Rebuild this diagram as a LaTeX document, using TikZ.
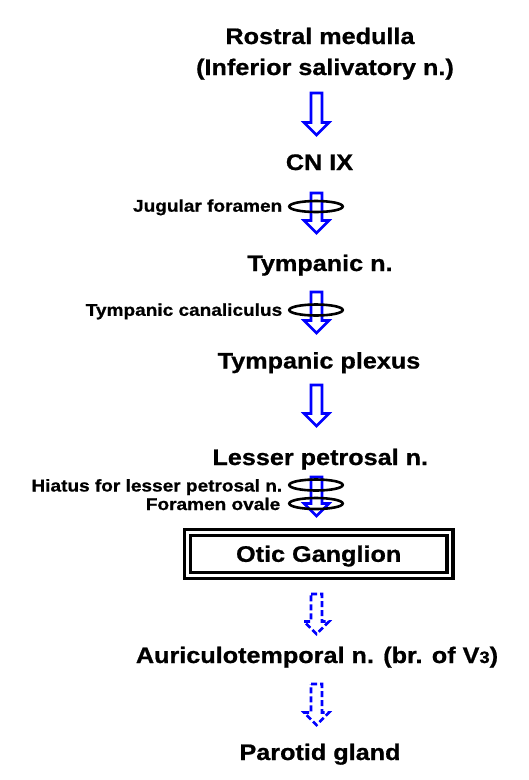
\documentclass[tikz,border=0pt]{standalone}
\usepackage{fontspec}
\setmainfont{Liberation Sans}[FakeStretch=1.12, BoldFeatures={FakeBold=0.8}]
\usetikzlibrary{calc,shapes.geometric}
\tikzset{
  main/.style={font=\fontsize{22.5}{27}\selectfont\bfseries, inner sep=0pt, anchor=base},
  lab/.style={font=\fontsize{17}{20}\selectfont\bfseries, inner sep=0pt, anchor=base east},
  blockarrow/.style={draw=blue, line width=2.6pt, line join=miter, fill=white},
  dashedarrow/.style={blockarrow, dash pattern=on 6pt off 3pt},
  ring/.style={ellipse, draw=black, line width=2.6pt, minimum width=53.5pt, minimum height=11pt, inner sep=0pt},
  gbox/.style={draw=black, double=white, line width=3.5pt, double distance=2.5pt,
    minimum width=262.7pt, minimum height=43pt, inner sep=0pt,
    font=\fontsize{22.5}{27}\selectfont\bfseries, text height=16pt, text depth=0pt}
}
\newcommand\blockarr[3][]{%
  \draw[blockarrow,#1] ($(#2)+(-5.5,0)$) -- ($(#2)+(5.5,0)$) -- ($(#3)+(5.5,-12.5)$)
    -- ($(#3)+(12.5,-12.5)$) -- (#3) -- ($(#3)+(-12.5,-12.5)$) -- ($(#3)+(-5.5,-12.5)$) -- cycle;}
\begin{document}
\begin{tikzpicture}[x=1pt,y=-1pt]
\useasboundingbox[fill=white] (0,0) rectangle (529,780);
% texts
\node[main] (rm) at (320,44) {Rostral medulla};
\node[main] (isn) at (325,75) {(Inferior salivatory n.)};
\node[main] (cn) at (319.5,170) {CN IX};
\node[main] (tn) at (320,271) {Tympanic n.};
\node[main] (tp) at (319,368.5) {Tympanic plexus};
\node[main] (lp) at (320.3,465) {Lesser petrosal n.};
\node[gbox] (otic) at (318.7,553.8) {Otic Ganglion};
\node[main] (at) at (317,663) {Auriculotemporal n. (br. of V{\fontsize{16.5}{18}\selectfont 3})};
\node[main] (pg) at (320,760) {Parotid gland};
% arrow coordinates
\coordinate (a1t) at (316.5,93);  \coordinate (a1b) at (316.5,135);
\coordinate (a2t) at (316.5,193); \coordinate (a2b) at (316.5,233);
\coordinate (a3t) at (316.5,292); \coordinate (a3b) at (316.5,333);
\coordinate (a4t) at (316.5,385); \coordinate (a4b) at (316.5,426);
\coordinate (a5t) at (316.5,477); \coordinate (a5b) at (316.5,516);
\coordinate (a6t) at (316.5,594); \coordinate (a6b) at (316.5,634);
\coordinate (a7t) at (316.5,684); \coordinate (a7b) at (316.5,725);
\blockarr{a1t}{a1b}
\blockarr{a2t}{a2b}
\blockarr{a3t}{a3b}
\blockarr{a4t}{a4b}
\blockarr{a5t}{a5b}
\blockarr[dashedarrow]{a6t}{a6b}
\blockarr[dashedarrow]{a7t}{a7b}
% rings
\node[ring] (e1) at (316,206.5) {};
\node[ring] (e2) at (316,310) {};
\node[ring] (e3) at (316,485) {};
\node[ring] (e4) at (316,503.5) {};
\node[lab] (l1) at ($(e1.west)+(-5.5,5.2)$) {Jugular foramen};
\node[lab] (l2) at ($(e2.west)+(-5.5,5.8)$) {Tympanic canaliculus};
\node[lab] (l3) at ($(e3.west)+(-5.5,6.5)$) {Hiatus for lesser petrosal n.};
\node[lab] (l4) at ($(e4.west)+(-7.5,6.5)$) {Foramen ovale};
\end{tikzpicture}
\end{document}
